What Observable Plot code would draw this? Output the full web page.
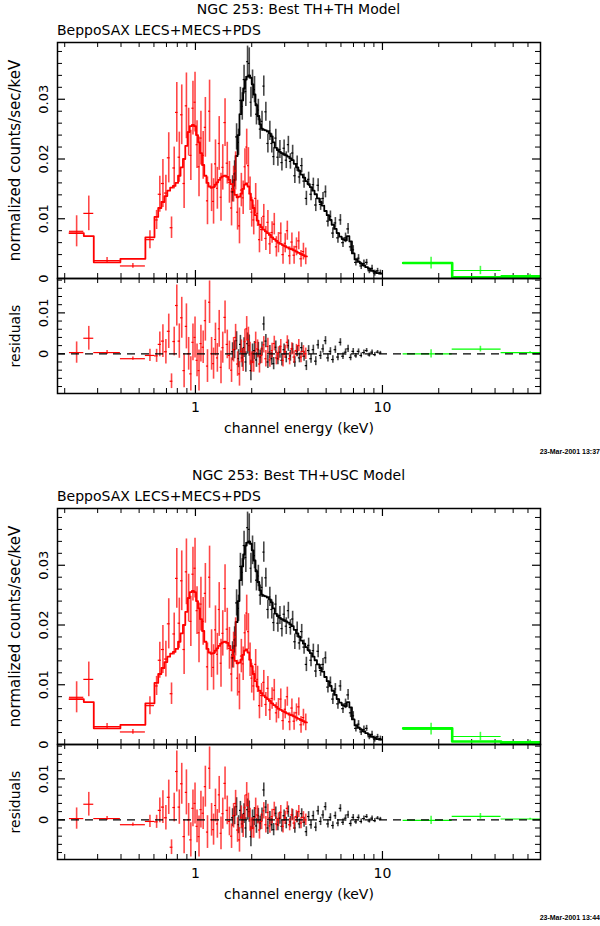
<!DOCTYPE html>
<html><head><meta charset="utf-8">
<script src="https://cdn.jsdelivr.net/npm/d3@7"></script>
<script src="https://cdn.jsdelivr.net/npm/@observablehq/plot@0.6"></script>
<style>
body{margin:0;background:#fff;}
#root{position:relative;width:600px;height:926px;overflow:hidden;font-family:"DejaVu Sans",sans-serif;background:#fff;}
.t{position:absolute;white-space:nowrap;color:#000;line-height:16px;}
.ttl{font-size:14px;text-align:center;}
.sub{font-size:14px;}
.stamp{font-family:"Liberation Sans",sans-serif;font-weight:bold;font-size:7px;line-height:8px;}
.p{position:absolute;left:0;}
</style></head><body><div id="root"></div>
<script>
// ---------- text ----------
const titles = ["NGC 253: Best TH+TH Model", "NGC 253: Best TH+USC Model"];
const subtitle = "BeppoSAX LECS+MECS+PDS";
const stamps = ["23-Mar-2001 13:37", "23-Mar-2001 13:44"];
const yLabelTop = "normalized counts/sec/keV";
const yLabelRes = "residuals";
const xLabel = "channel energy (keV)";

// ---------- axes ----------
const xDomain = [0.183, 70];
const xMajor = [1, 10];
const xMajorLabels = ["1", "10"];
const xMinor = [0.2,0.3,0.4,0.5,0.6,0.7,0.8,0.9,2,3,4,5,6,7,8,9,20,30,40,50,60,70];
const topDomain = [0, 0.0395];
const topMajor = [0, 0.01, 0.02, 0.03];
const topMajorLabels = ["0", "0.01", "0.02", "0.03"];
const topMinor = [0.002,0.004,0.006,0.008,0.012,0.014,0.016,0.018,0.022,0.024,0.026,0.028,0.032,0.034,0.036,0.038];
const resDomain = [-0.0097, 0.0184];
const resMajor = [0, 0.01];
const resMajorLabels = ["0", "0.01"];
const resMinor = [-0.008,-0.006,-0.004,-0.002,0.002,0.004,0.006,0.008,0.012,0.014,0.016,0.018];

// ---------- LECS (red): wide low-energy bins ----------
const lecsWideEdges = [0.212, 0.253, 0.286, 0.397, 0.540, 0.604];
const lecsWideRate  = [0.0079, 0.0109, 0.0030, 0.0021, 0.0065];
const lecsWideErr   = [0.0026, 0.0029, 0.0005, 0.0004, 0.0015];
const lecsWideModel = [0.0076, 0.0071, 0.0027, 0.0033, 0.0069];

// ---------- LECS (red): narrow bins ----------
const lecsE = [0.62,0.645,0.67,0.695,0.72,0.745,0.77,0.795,0.82,0.845,
 0.87,0.895,0.92,0.945,0.97,0.995,1.02,1.045,1.07,1.10,
 1.13,1.16,1.19,1.22,1.25,1.28,1.31,1.34,1.37,1.40,
 1.44,1.48,1.52,1.56,1.60,1.64,1.68,1.72,1.76,1.80,
 1.84,1.88,1.92,1.96,2.00,2.05,2.10,2.15,2.20,2.26,
 2.32,2.38,2.44,2.50,2.57,2.64,2.71,2.78,2.86,2.94,
 3.02,3.10,3.19,3.28,3.37,3.47,3.57,3.67,3.78,3.89];
const lecsRate = [0.0098,0.0141,0.0159,0.0143,0.0202,0.0085,0.0185,0.0278,0.0203,0.0274,
 0.0159,0.0289,0.0245,0.0206,0.0285,0.0295,0.0224,0.0187,0.0235,0.0206,
 0.0253,0.0130,0.0280,0.0152,0.0129,0.0192,0.0151,0.0226,0.0136,0.0186,
 0.0261,0.0193,0.0161,0.0118,0.0158,0.0180,0.0111,0.0088,0.0148,0.0135,
 0.0187,0.0220,0.0189,0.0142,0.0111,0.0098,0.0134,0.0109,0.0065,0.0082,
 0.0104,0.0067,0.0094,0.0058,0.0077,0.0091,0.0053,0.0060,0.0076,0.0040,
 0.0059,0.0080,0.0038,0.0061,0.0039,0.0053,0.0063,0.0033,0.0045,0.0037];
const lecsErr = [0.0016,0.0030,0.0040,0.0030,0.0042,0.0018,0.0035,0.0050,0.0042,0.0050,
 0.0042,0.0055,0.0040,0.0042,0.0045,0.0050,0.0040,0.0050,0.0045,0.0040,
 0.0050,0.0040,0.0052,0.0040,0.0038,0.0040,0.0035,0.0045,0.0040,0.0038,
 0.0040,0.0035,0.0035,0.0030,0.0030,0.0032,0.0030,0.0030,0.0028,0.0028,
 0.0030,0.0030,0.0030,0.0028,0.0025,0.0025,0.0025,0.0022,0.0022,0.0020,
 0.0020,0.0020,0.0020,0.0018,0.0018,0.0018,0.0017,0.0017,0.0017,0.0016,
 0.0016,0.0016,0.0015,0.0015,0.0015,0.0015,0.0015,0.0014,0.0014,0.0014];
const lecsModel = [0.0103,0.0118,0.0128,0.0138,0.0147,0.0152,0.0155,0.0160,0.0172,0.0186,
 0.0200,0.0222,0.0245,0.0255,0.0257,0.0255,0.0240,0.0228,0.0210,0.0190,
 0.0172,0.0160,0.0154,0.0152,0.0153,0.0157,0.0161,0.0165,0.0169,0.0171,
 0.0172,0.0170,0.0165,0.0158,0.0148,0.0140,0.0136,0.0137,0.0142,0.0150,
 0.0157,0.0159,0.0154,0.0142,0.0131,0.0118,0.0106,0.0097,0.0090,0.0086,
 0.0082,0.0079,0.0076,0.0073,0.0069,0.0066,0.0063,0.0060,0.0058,0.0056,
 0.0054,0.0052,0.0050,0.0049,0.0047,0.0045,0.0043,0.0041,0.0039,0.0037];

// ---------- MECS (black) ----------
const mecsE = [1.58,1.62,1.66,1.70,1.74,1.78,1.82,1.86,1.90,1.94,1.98,
 2.02,2.07,2.12,2.17,2.22,2.27,2.32,2.38,2.44,2.50,2.56,2.62,2.69,2.76,2.83,2.90,2.98,
 3.06,3.14,3.22,3.31,3.40,3.50,3.60,3.70,3.81,3.92,
 4.03,4.15,4.27,4.40,4.53,4.67,4.81,4.96,
 5.11,5.27,5.43,5.60,5.78,5.96,
 6.15,6.35,6.55,6.76,6.98,
 7.21,7.45,7.70,7.96,
 8.23,8.51,8.80,
 9.10,9.42,9.75];
const mecsRate = [0.0150,0.0175,0.0237,0.0228,0.0298,0.0288,0.0333,0.0313,0.0363,0.0360,0.0295,
 0.0325,0.0316,0.0275,0.0282,0.0250,0.0263,0.0322,0.0279,0.0226,0.0247,0.0226,0.0204,0.0235,0.0203,0.0216,0.0194,0.0218,
 0.0198,0.0224,0.0196,0.0210,0.0172,0.0192,0.0170,0.0189,0.0163,0.0134,
 0.0166,0.0141,0.0157,0.0123,0.0156,0.0124,0.0134,0.0145,
 0.0096,0.0104,0.0076,0.0093,0.0068,0.0098,
 0.0060,0.0068,0.0083,0.0053,0.0048,
 0.0027,0.0034,0.0021,0.0025,
 0.0027,0.0013,0.0017,
 0.0009,0.0013,0.0010];
const mecsErr = [0.0022,0.0022,0.0022,0.0022,0.0022,0.0023,0.0024,0.0025,0.0026,0.0026,0.0025,
 0.0024,0.0022,0.0018,0.0018,0.0017,0.0017,0.0017,0.0016,0.0016,0.0016,0.0016,0.0015,0.0015,0.0015,0.0015,0.0014,0.0014,
 0.0014,0.0014,0.0013,0.0013,0.0013,0.0013,0.0012,0.0012,0.0012,0.0012,
 0.0012,0.0011,0.0011,0.0011,0.0011,0.0010,0.0010,0.0010,
 0.0010,0.0009,0.0009,0.0009,0.0009,0.0009,
 0.0008,0.0008,0.0009,0.0008,0.0007,
 0.0006,0.0006,0.0006,0.0006,
 0.0005,0.0005,0.0005,
 0.0005,0.0004,0.0004];
const mecsModel = [0.0145,0.0165,0.0205,0.0240,0.0275,0.0298,0.0318,0.0333,0.0338,0.0340,0.0336,
 0.0325,0.0308,0.0290,0.0272,0.0258,0.0251,0.0249,0.0248,0.0246,0.0243,0.0238,0.0228,0.0219,0.0215,0.0212,0.0210,0.0208,
 0.0206,0.0204,0.0201,0.0198,0.0192,0.0186,0.0180,0.0174,0.0169,0.0163,
 0.0158,0.0153,0.0147,0.0141,0.0134,0.0128,0.0122,0.0113,
 0.0106,0.0098,0.0090,0.0083,0.0076,0.0070,
 0.0066,0.0064,0.0071,0.0062,0.0042,
 0.0032,0.0028,0.0025,0.0022,
 0.0019,0.0016,0.0013,
 0.0011,0.0009,0.0008];

// ---------- PDS (green) ----------
const pdsEdges = [12.9, 23.6, 43.1, 88];
const pdsE = [18.2, 33.4, 61.6];
const pdsRate = [0.00257, 0.00134, 0.0005];
const pdsErr = [0.0010, 0.0007, 0.0002];
const pdsModelTH = [0.0026, 0.0002, 0.0002];
const pdsModelUSC = [0.0027, 0.0005, 0.0003];

// ---------- helpers ----------
function edgesFromCenters(E, lo, hi) {
  const n = E.length, e = [];
  e.push(lo != null ? lo : E[0] / Math.sqrt(E[1] / E[0]));
  for (let i = 1; i < n; i++) e.push(Math.sqrt(E[i - 1] * E[i]));
  e.push(hi != null ? hi : E[n - 1] * Math.sqrt(E[n - 1] / E[n - 2]));
  return e;
}
function makeBins(E, edges, rate, err, model) {
  return E.map((x, i) => ({E: x, lo: edges[i], hi: edges[i + 1], rate: rate[i], err: err[i], model: model[i], res: rate[i] - model[i]}));
}
function steps(bins) {
  const s = [];
  bins.forEach(b => { s.push({x: b.lo, y: b.model}); s.push({x: b.hi, y: b.model}); });
  return s;
}
const lecsWideE = lecsWideEdges.slice(0, -1).map((l, i) => Math.sqrt(l * lecsWideEdges[i + 1]));
const lecsBins = makeBins(lecsWideE, lecsWideEdges, lecsWideRate, lecsWideErr, lecsWideModel)
  .concat(makeBins(lecsE, edgesFromCenters(lecsE, 0.604, null), lecsRate, lecsErr, lecsModel));
const mecsBins = makeBins(mecsE, edgesFromCenters(mecsE, null, null), mecsRate, mecsErr, mecsModel);

const panels = [
  {title: titles[0], stamp: stamps[0], pds: makeBins(pdsE, pdsEdges, pdsRate, pdsErr, pdsModelTH), oy: 0},
  {title: titles[1], stamp: stamps[1], pds: makeBins(pdsE, pdsEdges, pdsRate, pdsErr, pdsModelUSC), oy: 466}
];

const W = 600, ML = 57, MR = 60;
const FW = W - ML - MR;

function tickMarks(fh, yMajor, yMinor) {
  return [
    Plot.ruleX(xMinor, {x: d => d, insetTop: fh - 5, stroke: "black", strokeWidth: 1}),
    Plot.ruleX(xMinor, {x: d => d, insetBottom: fh - 5, stroke: "black", strokeWidth: 1}),
    Plot.ruleX(xMajor, {x: d => d, insetTop: fh - 8, stroke: "black", strokeWidth: 1.2}),
    Plot.ruleX(xMajor, {x: d => d, insetBottom: fh - 8, stroke: "black", strokeWidth: 1.2}),
    Plot.ruleY(yMinor, {y: d => d, insetRight: FW - 5, stroke: "black", strokeWidth: 1}),
    Plot.ruleY(yMinor, {y: d => d, insetLeft: FW - 5, stroke: "black", strokeWidth: 1}),
    Plot.ruleY(yMajor, {y: d => d, insetRight: FW - 8, stroke: "black", strokeWidth: 1.2}),
    Plot.ruleY(yMajor, {y: d => d, insetLeft: FW - 8, stroke: "black", strokeWidth: 1.2})
  ];
}

function dataMarks(bins, color, yKey, withModel) {
  const ms = [
    Plot.ruleX(bins, {x: "E", y1: d => d[yKey] - d.err, y2: d => d[yKey] + d.err, stroke: color, strokeWidth: 1.6, strokeOpacity: 0.72, clip: true}),
    Plot.ruleY(bins, {y: d => d[yKey], x1: "lo", x2: "hi", stroke: color, strokeWidth: 1.2, clip: true})
  ];
  if (withModel) ms.push(Plot.line(steps(bins), {x: "x", y: "y", stroke: color, strokeWidth: color === "#00ff00" ? 2.6 : 1.8, clip: true}));
  return ms;
}

const root = document.getElementById("root");

function addDiv(cls, text, css) {
  const d = document.createElement("div");
  d.className = "t " + cls;
  d.textContent = text;
  Object.assign(d.style, css);
  root.appendChild(d);
}

const vText = {frameAnchor: "left", rotate: -90, textAnchor: "middle", lineAnchor: "middle", fill: "black"};
const bText = {frameAnchor: "bottom", textAnchor: "middle", lineAnchor: "middle", fill: "black"};

panels.forEach(p => {
  addDiv("ttl", p.title, {left: ML + "px", width: FW + "px", top: (p.oy + 1) + "px"});
  addDiv("sub", subtitle, {left: ML + "px", top: (p.oy + 22) + "px"});
  addDiv("stamp", p.stamp, {right: "0px", top: (p.oy + 448) + "px"});

  const topH = 280, topMT = 42, topMB = 2;
  const topFH = topH - topMT - topMB;
  const top = Plot.plot({
    width: W, height: topH, marginLeft: ML, marginRight: MR, marginTop: topMT, marginBottom: topMB,
    style: {background: "transparent", overflow: "visible", fontFamily: "DejaVu Sans"},
    x: {type: "log", domain: xDomain, axis: null},
    y: {domain: topDomain, axis: null},
    marks: [
      ...tickMarks(topFH, topMajor, topMinor),
      ...dataMarks(mecsBins, "#000000", "rate", true),
      ...dataMarks(lecsBins, "#ff0000", "rate", true),
      ...dataMarks(p.pds, "#00ff00", "rate", true),
      Plot.frame({stroke: "black", strokeWidth: 1.5}),
      Plot.text(topMajor, {...vText, y: d => d, text: (d, i) => topMajorLabels[i], dx: -14, fontSize: 13}),
      Plot.text([yLabelTop], {...vText, text: d => d, dx: -42, fontSize: 15})
    ]
  });
  top.classList.add("p");
  top.style.top = p.oy + "px";
  root.appendChild(top);

  const resH = 164, resMT = 2, resMB = 47;
  const resFH = resH - resMT - resMB;
  const res = Plot.plot({
    width: W, height: resH, marginLeft: ML, marginRight: MR, marginTop: resMT, marginBottom: resMB,
    style: {background: "transparent", overflow: "visible", fontFamily: "DejaVu Sans"},
    x: {type: "log", domain: xDomain, axis: null},
    y: {domain: resDomain, axis: null},
    marks: [
      ...tickMarks(resFH, resMajor, resMinor),
      ...dataMarks(mecsBins, "#000000", "res", false),
      ...dataMarks(lecsBins, "#ff0000", "res", false),
      ...dataMarks(p.pds, "#00ff00", "res", false),
      Plot.ruleY([0], {stroke: "black", strokeWidth: 1.2, strokeDasharray: "8,6"}),
      Plot.frame({stroke: "black", strokeWidth: 1.5}),
      Plot.text(resMajor, {...vText, y: d => d, text: (d, i) => resMajorLabels[i], dx: -14, fontSize: 13}),
      Plot.text([yLabelRes], {...vText, text: d => d, dx: -42, fontSize: 14}),
      Plot.text(xMajor, {...bText, x: d => d, text: (d, i) => xMajorLabels[i], dy: 14, fontSize: 14}),
      Plot.text([xLabel], {...bText, text: d => d, dy: 35, fontSize: 14})
    ]
  });
  res.classList.add("p");
  res.style.top = (p.oy + 276) + "px";
  root.appendChild(res);
});
</script>
</body></html>
